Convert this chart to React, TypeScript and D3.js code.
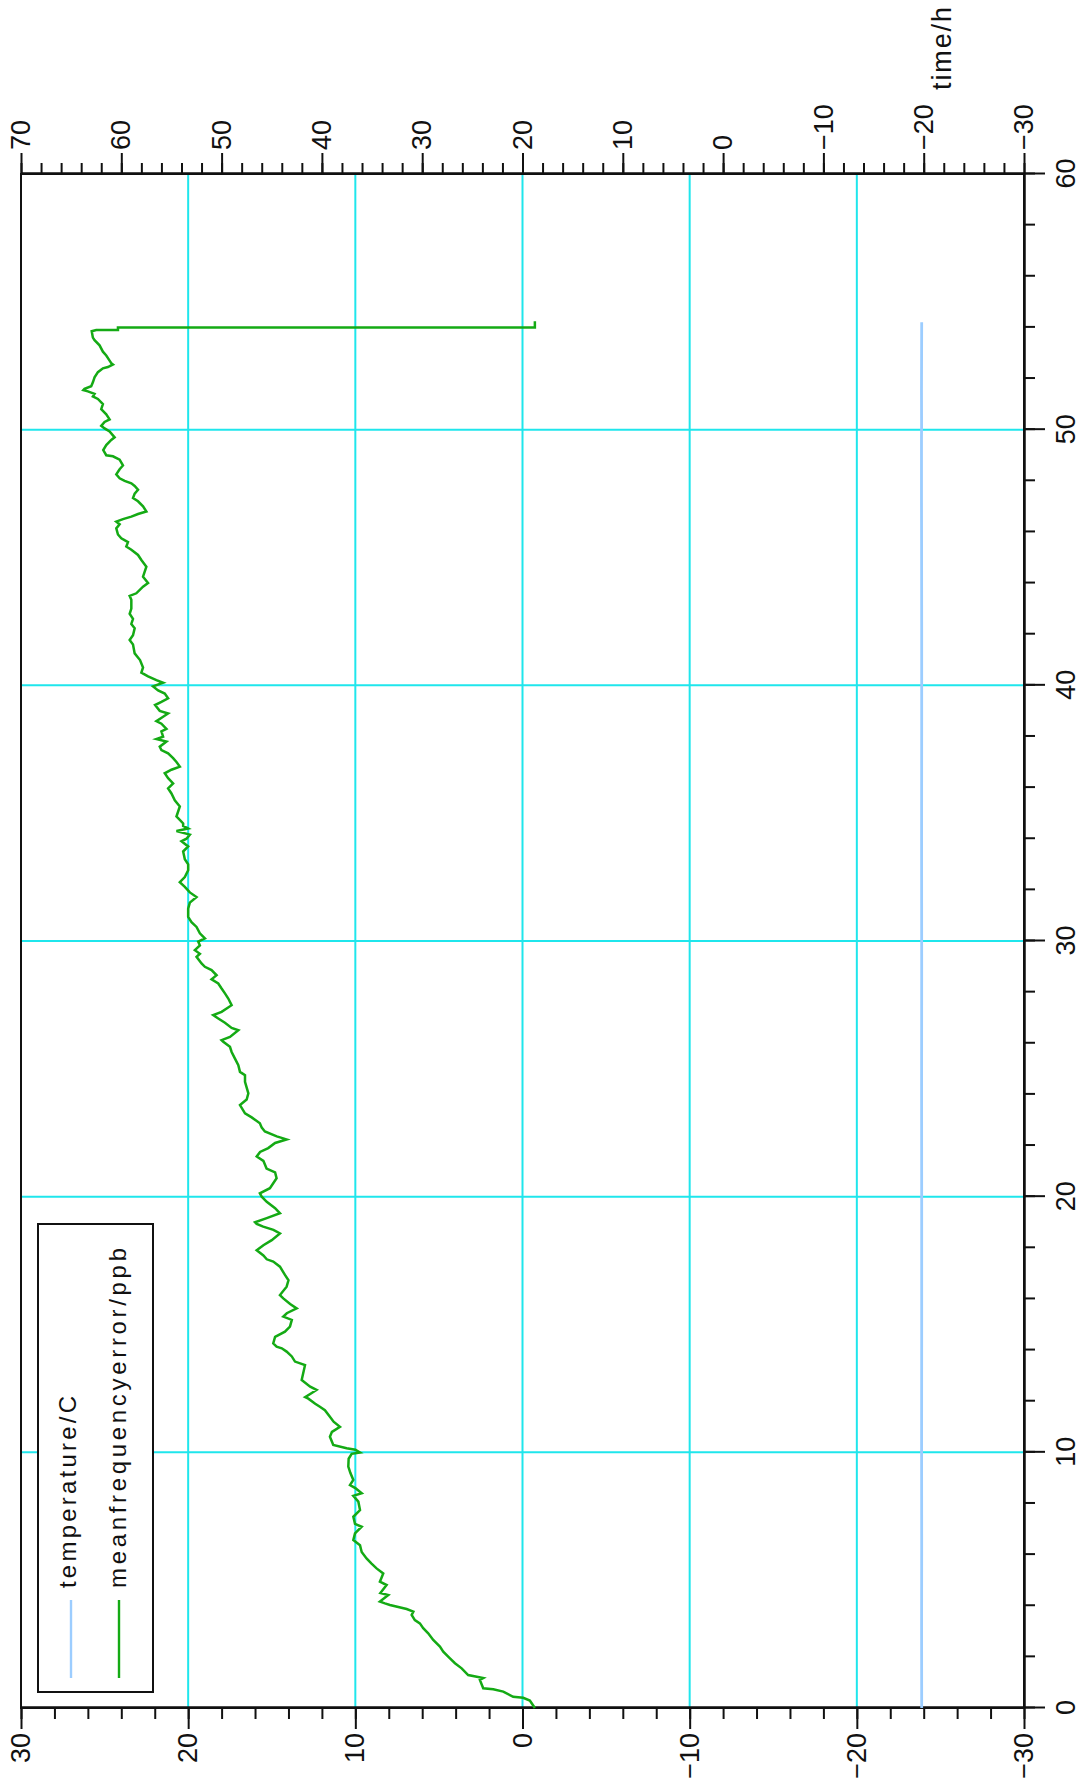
import React, { useEffect, useRef } from "react";
import * as d3 from "d3";

// Mean frequency error (ppb) over elapsed time (h)
const timeH = [
  0.0, 0.29, 0.4, 0.44, 0.64, 0.73, 0.77, 1.1, 1.17, 1.29, 1.55, 1.75, 1.94, 2.2, 2.4, 2.66, 2.92, 3.12, 3.31, 3.44,
  3.64, 3.77, 3.87, 4.03, 4.09, 4.16, 4.42, 4.5, 4.81, 4.94, 5.26, 5.46, 5.65, 5.85, 6.1, 6.37, 6.57, 6.83, 7.09, 7.2,
  7.48, 7.74, 8.07, 8.3, 8.4, 8.6, 8.72, 8.92, 9.2, 9.44, 9.75, 9.94, 9.99, 10.1, 10.16, 10.29, 10.61, 10.8, 11.0, 11.2,
  11.39, 11.65, 11.78, 11.9, 12.1, 12.16, 12.44, 12.57, 12.83, 13.41, 13.55, 13.75, 13.94, 14.07, 14.13, 14.26, 14.52, 14.72, 14.92, 15.18,
  15.31, 15.44, 15.63, 15.8, 16.02, 16.15, 16.48, 16.73, 16.94, 17.26, 17.46, 17.55, 17.7, 17.9, 18.1, 18.3, 18.56, 18.7, 18.83, 18.93,
  19.0, 19.16, 19.35, 19.55, 19.8, 20.0, 20.13, 20.33, 20.72, 20.95, 21.1, 21.4, 21.57, 21.75, 21.9, 22.1, 22.24, 22.36, 22.55, 22.7,
  22.87, 23.1, 23.26, 23.58, 23.8, 24.04, 24.49, 24.75, 24.88, 25.14, 25.4, 25.66, 25.86, 26.06, 26.12, 26.25, 26.51, 26.6, 26.8, 26.97,
  27.1, 27.23, 27.49, 27.75, 27.95, 28.14, 28.34, 28.5, 28.66, 28.86, 28.99, 29.12, 29.38, 29.5, 29.64, 29.83, 29.98, 30.1, 30.3, 30.55,
  30.74, 30.94, 31.26, 31.5, 31.72, 31.9, 32.12, 32.3, 32.5, 32.77, 33.0, 33.2, 33.5, 33.7, 33.9, 34.0, 34.16, 34.3, 34.4, 34.5,
  34.6, 34.87, 35.26, 35.5, 35.77, 35.97, 36.16, 36.37, 36.56, 36.7, 36.82, 37.0, 37.15, 37.34, 37.47, 37.6, 37.8, 37.9, 37.99, 38.2,
  38.3, 38.5, 38.6, 38.77, 38.9, 39.0, 39.23, 39.35, 39.49, 39.68, 39.8, 39.96, 40.1, 40.2, 40.35, 40.5, 40.7, 40.99, 41.25, 41.6,
  41.77, 41.96, 42.23, 42.4, 42.6, 42.8, 43.0, 43.35, 43.5, 43.6, 43.86, 44.0, 44.25, 44.64, 44.9, 45.1, 45.3, 45.43, 45.6, 45.75,
  45.9, 46.14, 46.3, 46.4, 46.5, 46.6, 46.7, 46.8, 47.0, 47.2, 47.33, 47.5, 47.65, 47.8, 47.9, 48.0, 48.1, 48.25, 48.45, 48.6,
  48.83, 48.96, 49.0, 49.2, 49.4, 49.6, 49.7, 49.93, 50.05, 50.15, 50.3, 50.4, 50.6, 50.8, 51.0, 51.2, 51.3, 51.4, 51.5, 51.55,
  51.6, 51.7, 51.85, 52.05, 52.25, 52.4, 52.45, 52.55, 52.6, 52.7, 52.9, 53.05, 53.3, 53.5, 53.6, 53.85, 53.9, 53.9, 54.0, 54.0,
  54.24,
];
const freqErrPpb = [
  -0.74, -0.44, -0.04, 0.56, 1.15, 1.75, 2.35, 2.55, 2.35, 3.25, 3.64, 4.04, 4.34, 4.74, 4.94, 5.34, 5.64, 5.94, 6.14, 6.44,
  6.63, 6.53, 6.93, 7.93, 8.23, 8.53, 8.03, 8.5, 8.13, 8.53, 8.33, 8.73, 9.03, 9.33, 9.62, 9.72, 10.12, 10.02, 9.62, 10.02,
  10.12, 9.72, 9.82, 10.12, 9.62, 10.0, 10.32, 10.12, 10.3, 10.42, 10.4, 10.22, 9.72, 10.0, 10.52, 11.32, 11.52, 11.4, 10.92, 11.3,
  11.52, 11.82, 12.12, 12.4, 12.81, 13.0, 12.32, 12.7, 13.21, 13.01, 13.61, 13.8, 14.11, 14.4, 14.71, 14.91, 14.8, 14.21, 13.91, 13.8,
  14.31, 14.1, 13.51, 13.9, 14.31, 14.51, 14.11, 14.0, 14.21, 14.51, 14.91, 15.3, 15.5, 15.9, 15.5, 15.0, 14.51, 14.9, 15.51, 15.9,
  16.0, 15.3, 14.51, 14.8, 15.3, 15.6, 15.71, 15.11, 14.71, 14.8, 15.31, 15.5, 15.9, 15.7, 15.21, 14.8, 14.11, 14.7, 15.41, 15.6,
  15.71, 16.2, 16.6, 16.9, 16.5, 16.4, 16.6, 16.6, 16.9, 17.0, 17.2, 17.4, 17.5, 17.9, 18.0, 17.5, 17.0, 17.4, 17.8, 18.2,
  18.5, 18.0, 17.4, 17.6, 17.8, 18.0, 18.2, 18.6, 18.3, 18.6, 19.0, 19.2, 19.5, 19.3, 19.6, 19.3, 19.4, 19.0, 19.3, 19.5,
  19.8, 20.0, 20.0, 19.9, 19.5, 19.9, 20.2, 20.5, 20.2, 20.0, 20.0, 20.2, 20.3, 20.0, 20.4, 20.1, 19.9, 20.7, 20.0, 20.3,
  20.3, 20.7, 20.5, 20.8, 21.0, 21.2, 20.9, 21.2, 21.4, 21.0, 20.5, 20.7, 20.9, 21.2, 21.6, 21.7, 21.3, 21.9, 21.5, 21.6,
  21.3, 21.6, 21.9, 21.5, 21.2, 21.7, 21.98, 21.6, 21.2, 21.4, 21.8, 22.1, 21.5, 21.9, 22.4, 22.8, 22.7, 22.88, 23.2, 23.3,
  23.5, 23.3, 23.2, 23.4, 23.3, 23.5, 23.4, 23.4, 23.5, 23.1, 22.7, 22.4, 22.7, 22.5, 22.8, 23.0, 23.4, 23.7, 23.6, 24.0,
  24.2, 24.3, 24.1, 24.3, 23.9, 23.4, 23.0, 22.5, 22.7, 23.0, 23.3, 23.2, 23.0, 23.2, 23.4, 23.8, 24.1, 24.3, 24.1, 23.9,
  24.1, 24.5, 24.9, 25.08, 24.9, 24.6, 24.4, 24.7, 25.0, 25.2, 25.0, 24.7, 24.9, 25.2, 25.1, 25.4, 25.7, 25.6, 26.0, 26.27,
  26.2, 25.8, 25.7, 25.6, 25.4, 25.1, 24.8, 24.5, 24.6, 24.7, 24.9, 25.1, 25.3, 25.6, 25.7, 25.77, 25.5, 24.2, 24.2, -0.74,
  -0.74,
];

// Temperature (C) over elapsed time (h)
const tempTimeH = [0, 3.1, 6.4, 10.1, 14.8, 19.6, 24.3, 29.1, 33.9, 38.6, 42.2, 45.4, 47.4, 49.7, 50.1, 51.55, 54.2];
const tempC = [-19.8, -19.79, -19.8, -19.79, -19.8, -19.8, -19.79, -19.8, -19.79, -19.8, -19.8, -19.79, -19.78, -19.78, -19.79, -19.78, -19.8];

const timeTicks = [0, 10, 20, 30, 40, 50, 60];
const freqTicks = [-30, -20, -10, 0, 10, 20, 30];
const tempTicks = [-30, -20, -10, 0, 10, 20, 30, 40, 50, 60, 70];
const timeGrid = [10, 20, 30, 40, 50];
const freqGrid = [-20, -10, 0, 10, 20];
const seriesNames = ["temperature/C", "meanfrequencyerror/ppb"];
const seriesColors = ["#9ccdff", "#14aa14"];
const timeTitle = "time/h";

const W = 1089;
const H = 1787;
// The chart is laid out landscape (time running left to right) and then
// turned a quarter turn counter-clockwise onto the portrait page.
const plot = { left: 79, right: 1613, top: 21, bottom: 1024 };
const INK = "#111";
const GRID = "#1fe6ec";
const FONT = "'Liberation Sans', Arial, sans-serif";

export default function App() {
  const ref = useRef<SVGSVGElement>(null);

  useEffect(() => {
    const svg = d3.select(ref.current);
    svg.selectAll("*").remove();
    const g = svg.append("g").attr("transform", `translate(0,${H}) rotate(-90)`);

    const x = d3.scaleLinear().domain([0, 60]).range([plot.left, plot.right]);
    const yF = d3.scaleLinear().domain([-30, 30]).range([plot.bottom, plot.top]);
    const yT = d3.scaleLinear().domain([-30, 70]).range([plot.bottom, plot.top]);

    // grid
    g.append("g")
      .selectAll("line")
      .data(timeGrid)
      .join("line")
      .attr("x1", (d) => x(d))
      .attr("x2", (d) => x(d))
      .attr("y1", plot.top)
      .attr("y2", plot.bottom)
      .attr("stroke", GRID)
      .attr("stroke-width", 2);
    g.append("g")
      .selectAll("line")
      .data(freqGrid)
      .join("line")
      .attr("x1", plot.left)
      .attr("x2", plot.right)
      .attr("y1", (d) => yF(d))
      .attr("y2", (d) => yF(d))
      .attr("stroke", GRID)
      .attr("stroke-width", 2);

    // frame
    g.append("rect")
      .attr("x", plot.left)
      .attr("y", plot.top)
      .attr("width", plot.right - plot.left)
      .attr("height", plot.bottom - plot.top)
      .attr("fill", "none")
      .attr("stroke", INK)
      .attr("stroke-width", 2);

    const styleAxis = (sel: any) => {
      sel.attr("font-family", FONT).attr("font-size", 27);
      sel.selectAll("path").attr("stroke", INK).attr("stroke-width", 2);
      sel.selectAll("line").attr("stroke", INK).attr("stroke-width", 2);
      sel.selectAll("text").attr("fill", INK);
    };

    // time axis
    g.append("g")
      .attr("transform", `translate(0,${plot.bottom})`)
      .call(d3.axisBottom(x).tickValues(d3.range(0, 61, 2)).tickSize(11).tickSizeOuter(0).tickFormat(() => ""))
      .call(styleAxis);
    g.append("g")
      .attr("transform", `translate(0,${plot.bottom})`)
      .call(d3.axisBottom(x).tickValues(timeTicks).tickSize(21).tickSizeOuter(0).tickPadding(11))
      .call(styleAxis);

    // frequency error axis
    g.append("g")
      .attr("transform", `translate(${plot.left},0)`)
      .call(d3.axisLeft(yF).tickValues(d3.range(-30, 31, 2)).tickSize(11).tickSizeOuter(0).tickFormat(() => ""))
      .call(styleAxis);
    g.append("g")
      .attr("transform", `translate(${plot.left},0)`)
      .call(d3.axisLeft(yF).tickValues(freqTicks).tickSize(21).tickSizeOuter(0).tickPadding(4))
      .call(styleAxis);

    // temperature axis
    g.append("g")
      .attr("transform", `translate(${plot.right},0)`)
      .call(d3.axisRight(yT).tickValues(d3.range(-30, 71, 2)).tickSize(11).tickSizeOuter(0).tickFormat(() => ""))
      .call(styleAxis);
    g.append("g")
      .attr("transform", `translate(${plot.right},0)`)
      .call(d3.axisRight(yT).tickValues(tempTicks).tickSize(21).tickSizeOuter(0).tickPadding(3))
      .call(styleAxis);

    g.append("text")
      .attr("x", 1697)
      .attr("y", 951)
      .attr("font-family", FONT)
      .attr("font-size", 27)
      .attr("textLength", 83)
      .attr("lengthAdjust", "spacing")
      .attr("fill", INK)
      .text(timeTitle);

    // series
    const tempLine = d3
      .line<number>()
      .x((_, i) => x(tempTimeH[i]))
      .y((d) => yT(d));
    g.append("path")
      .attr("d", tempLine(tempC))
      .attr("fill", "none")
      .attr("stroke", seriesColors[0])
      .attr("stroke-width", 2.8);

    const freqLine = d3
      .line<number>()
      .x((_, i) => x(timeH[i]))
      .y((d) => yF(d));
    g.append("path")
      .attr("d", freqLine(freqErrPpb))
      .attr("fill", "none")
      .attr("stroke", seriesColors[1])
      .attr("stroke-width", 2.5)
      .attr("stroke-linejoin", "miter");

    // legend
    const lg = g.append("g");
    lg.append("rect")
      .attr("x", 95)
      .attr("y", 38)
      .attr("width", 468)
      .attr("height", 115)
      .attr("fill", "#fff")
      .attr("stroke", INK)
      .attr("stroke-width", 2);
    const rows = [
      { y: 71, base: 76, len: 192 },
      { y: 119, base: 125.5, len: 340 },
    ];
    rows.forEach((r, i) => {
      lg.append("line")
        .attr("x1", 109)
        .attr("x2", 187)
        .attr("y1", r.y)
        .attr("y2", r.y)
        .attr("stroke", seriesColors[i])
        .attr("stroke-width", 2.4);
      lg.append("text")
        .attr("x", 199)
        .attr("y", r.base)
        .attr("font-family", FONT)
        .attr("font-size", 24)
        .attr("textLength", r.len)
        .attr("lengthAdjust", "spacing")
        .attr("fill", INK)
        .text(seriesNames[i]);
    });
  }, []);

  return (
    <svg
      ref={ref}
      width={W}
      height={H}
      style={{ position: "absolute", left: 0, top: 0, background: "#fff", display: "block" }}
    />
  );
}
